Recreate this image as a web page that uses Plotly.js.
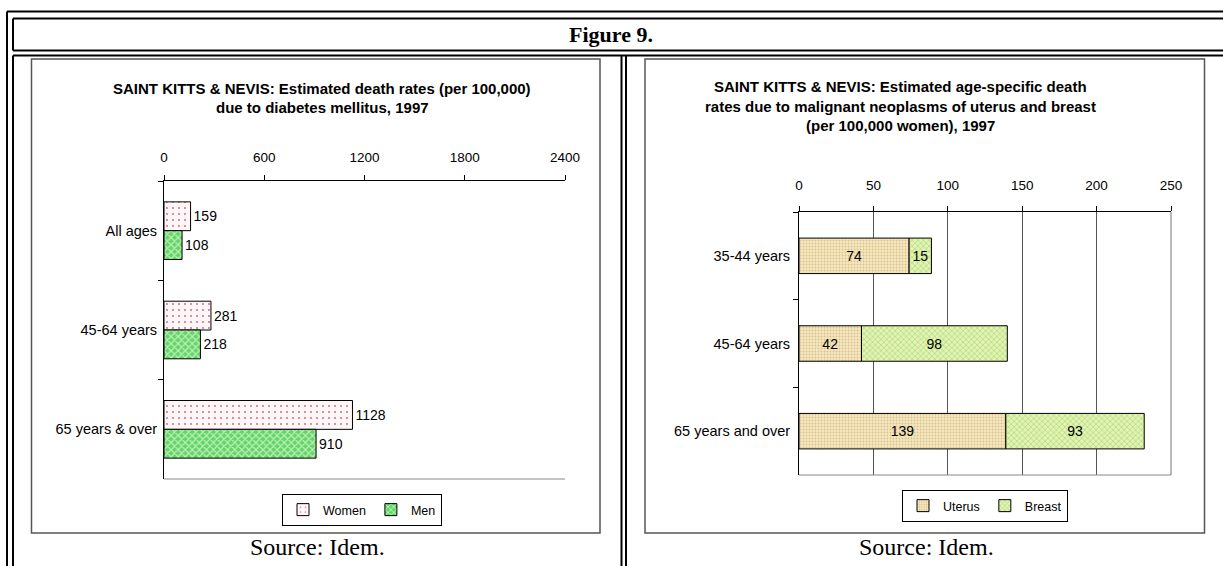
<!DOCTYPE html>
<html>
<head>
<meta charset="utf-8">
<script src="https://cdn.plot.ly/plotly-3.0.1.min.js"></script>
<style>
  html, body { margin: 0; padding: 0; background: #ffffff; }
  #chart { width: 1223px; height: 566px; }
</style>
</head>
<body>
<div id="chart"></div>
<script>
// ---------- Data ----------
const diabetesCategories = ["All ages", "45-64 years", "65 years & over"];
const diabetesWomen = [159, 281, 1128];
const diabetesMen = [108, 218, 910];
const diabetesTicks = [0, 600, 1200, 1800, 2400];

const cancerCategories = ["35-44 years", "45-64 years", "65 years and over"];
const cancerUterus = [74, 42, 139];
const cancerBreast = [15, 98, 93];
const cancerTicks = [0, 50, 100, 150, 200, 250];

const figureTitle = "Figure 9.";
const leftTitleLines = ["SAINT KITTS & NEVIS: Estimated death rates (per 100,000)", "due to diabetes mellitus, 1997"];
const rightTitleLines = ["SAINT KITTS & NEVIS: Estimated age-specific death", "rates due to malignant neoplasms of uterus and breast", "(per 100,000 women), 1997"];
const sourceText = "Source: Idem.";

// ---------- Layout helpers (pixel -> paper) ----------
const W = 1223, H = 566;
const fx = p => p / W;
const fy = p => 1 - p / H;
const SANS = "Liberation Sans, Arial, sans-serif";
const SERIF = "Liberation Serif, Times New Roman, serif";

const traces = [
  {
    type: "bar", orientation: "h", name: "Women",
    y: diabetesCategories, x: diabetesWomen,
    xaxis: "x", yaxis: "y", legend: "legend",
    width: 0.29, offset: -0.29,
    marker: {
      color: "#fff7f7",
      line: { color: "#000000", width: 1 },
      pattern: { shape: ".", bgcolor: "#fff7f7", fgcolor: "#c86a80", size: 6, solidity: 0.08 }
    },
    text: diabetesWomen.map(String), textposition: "outside", cliponaxis: false,
    textfont: { family: SANS, size: 14, color: "#000" }, hoverinfo: "skip"
  },
  {
    type: "bar", orientation: "h", name: "Men",
    y: diabetesCategories, x: diabetesMen,
    xaxis: "x", yaxis: "y", legend: "legend",
    width: 0.29, offset: 0,
    marker: {
      color: "#66d466",
      line: { color: "#000000", width: 1 },
      pattern: { shape: "x", bgcolor: "#66d466", fgcolor: "#bdf2bd", size: 5, solidity: 0.4 }
    },
    text: diabetesMen.map(String), textposition: "outside", cliponaxis: false,
    textfont: { family: SANS, size: 14, color: "#000" }, hoverinfo: "skip"
  },
  {
    type: "bar", orientation: "h", name: "Uterus",
    y: cancerCategories, x: cancerUterus,
    xaxis: "x2", yaxis: "y2", legend: "legend2",
    width: 0.405, offset: -0.2025,
    marker: {
      color: "#f6e8c2",
      line: { color: "#000000", width: 1 },
      pattern: { shape: ".", bgcolor: "#f6e8c2", fgcolor: "#d8c28a", size: 3, solidity: 0.3 }
    },
    text: cancerUterus.map(String), textposition: "inside", insidetextanchor: "middle",
    constraintext: "none",
    textfont: { family: SANS, size: 14, color: "#000" }, hoverinfo: "skip"
  },
  {
    type: "bar", orientation: "h", name: "Breast",
    y: cancerCategories, x: cancerBreast, base: cancerUterus,
    xaxis: "x2", yaxis: "y2", legend: "legend2",
    width: 0.405, offset: -0.2025,
    marker: {
      color: "#e0f4b4",
      line: { color: "#000000", width: 1 },
      pattern: { shape: "x", bgcolor: "#e0f4b4", fgcolor: "#a8cc66", size: 4, solidity: 0.25 }
    },
    text: cancerBreast.map(String), textposition: "inside", insidetextanchor: "middle",
    constraintext: "none",
    textfont: { family: SANS, size: 14, color: "#000" }, hoverinfo: "skip"
  }
];

function line(x0, y0, x1, y1, color, width) {
  return { type: "line", xref: "paper", yref: "paper", x0: fx(x0), y0: fy(y0), x1: fx(x1), y1: fy(y1),
           line: { color: color, width: width } };
}
function rect(x0, y0, x1, y1, color, width) {
  return { type: "rect", xref: "paper", yref: "paper", x0: fx(x0), y0: fy(y0), x1: fx(x1), y1: fy(y1),
           line: { color: color, width: width }, fillcolor: "rgba(0,0,0,0)" };
}

const shapes = [
  // document table borders
  line(7, 11.5, 1240, 11.5, "#000", 2),
  line(7, 11.5, 7, 600, "#000", 2),
  line(13, 18.5, 1240, 18.5, "#000", 2),
  line(13, 50.5, 1240, 50.5, "#000", 2),
  line(13, 18.5, 13, 50.5, "#000", 2),
  line(13, 55.5, 1240, 55.5, "#000", 2),
  line(13, 55.5, 13, 600, "#000", 2),
  line(621.5, 55.5, 621.5, 600, "#000", 2),
  line(626, 55.5, 626, 600, "#000", 2),
  // chart frames
  rect(31.5, 59, 600, 533, "#555", 1.5),
  rect(645, 59, 1204.5, 533, "#555", 1.5),
  // bottom line of plot areas
  { type: "line", xref: "x domain", yref: "y domain", x0: 0, x1: 1, y0: 0, y1: 0, line: { color: "#888", width: 1 } },
  { type: "line", xref: "x2 domain", yref: "y2 domain", x0: 0, x1: 1, y0: 0, y1: 0, line: { color: "#888", width: 1 } },
  { type: "line", xref: "x2 domain", yref: "y2 domain", x0: 1, x1: 1, y0: 0, y1: 1, line: { color: "#777", width: 1 } }
];

function ann(text, x, y, size, family, opts) {
  return Object.assign({ text: text, xref: "paper", yref: "paper", x: fx(x), y: fy(y),
    xanchor: "center", yanchor: "middle", showarrow: false,
    font: { family: family, size: size, color: "#000" } }, opts || {});
}

const annotations = [
  ann("<b>" + figureTitle + "</b>", 611, 34.5, 22, SERIF),
  ann("<b>" + leftTitleLines[0] + "</b>", 322, 88, 15, SANS),
  ann("<b>" + leftTitleLines[1] + "</b>", 322, 107, 15, SANS),
  ann("<b>" + rightTitleLines[0] + "</b>", 900, 87, 15, SANS),
  ann("<b>" + rightTitleLines[1] + "</b>", 900, 106, 15, SANS),
  ann("<b>" + rightTitleLines[2] + "</b>", 900, 125, 15, SANS),
  ann(sourceText, 317, 547, 24, SERIF),
  ann(sourceText, 926, 547, 24, SERIF)
];

const layout = {
  width: W, height: H,
  margin: { l: 0, r: 0, t: 0, b: 0 },
  paper_bgcolor: "#ffffff", plot_bgcolor: "rgba(0,0,0,0)",
  barmode: "overlay",
  showlegend: true,
  font: { family: SANS, size: 14, color: "#000" },
  xaxis: {
    domain: [fx(164), fx(565)], anchor: "y", side: "top",
    range: [0, 2400], tickvals: diabetesTicks, ticktext: diabetesTicks.map(String),
    showgrid: false, zeroline: false, showline: true, linecolor: "#000", linewidth: 1,
    ticks: "outside", ticklen: 5, tickcolor: "#000", ticklabelstandoff: 8,
    tickfont: { family: SANS, size: 13.5, color: "#000" }, fixedrange: true
  },
  yaxis: {
    domain: [fy(479), fy(181)], anchor: "x",
    type: "category", categoryarray: diabetesCategories, categoryorder: "array",
    range: [2.5, -0.5], showgrid: false, zeroline: false,
    showline: true, linecolor: "#000", linewidth: 1,
    ticks: "outside", tickson: "boundaries", ticklen: 5, tickcolor: "#000",
    ticklabelstandoff: 3,
    tickfont: { family: SANS, size: 14.5, color: "#000" }, fixedrange: true
  },
  xaxis2: {
    domain: [fx(799), fx(1171)], anchor: "y2", side: "top",
    range: [0, 250], tickvals: cancerTicks, ticktext: cancerTicks.map(String),
    showgrid: true, gridcolor: "#555", gridwidth: 1, zeroline: false,
    showline: true, linecolor: "#000", linewidth: 1,
    ticks: "outside", ticklen: 5, tickcolor: "#000", ticklabelstandoff: 11,
    tickfont: { family: SANS, size: 13.5, color: "#000" }, fixedrange: true
  },
  yaxis2: {
    domain: [fy(475), fy(212)], anchor: "x2",
    type: "category", categoryarray: cancerCategories, categoryorder: "array",
    range: [2.5, -0.5], showgrid: false, zeroline: false,
    showline: true, linecolor: "#000", linewidth: 1,
    ticks: "outside", tickson: "boundaries", ticklen: 5, tickcolor: "#000",
    ticklabelstandoff: 5,
    tickfont: { family: SANS, size: 14.5, color: "#000" }, fixedrange: true
  },
  legend: {
    orientation: "h", x: fx(362), xanchor: "center", y: fy(494), yanchor: "top",
    bgcolor: "#ffffff", bordercolor: "#000", borderwidth: 1,
    font: { family: SANS, size: 12.5, color: "#000" }, itemwidth: 30, traceorder: "normal"
  },
  legend2: {
    orientation: "h", x: fx(985), xanchor: "center", y: fy(490), yanchor: "top",
    bgcolor: "#ffffff", bordercolor: "#000", borderwidth: 1,
    font: { family: SANS, size: 12.5, color: "#000" }, itemwidth: 30, traceorder: "normal"
  },
  shapes: shapes,
  annotations: annotations
};

Plotly.newPlot("chart", traces, layout, { displayModeBar: false, staticPlot: true });
</script>
</body>
</html>
